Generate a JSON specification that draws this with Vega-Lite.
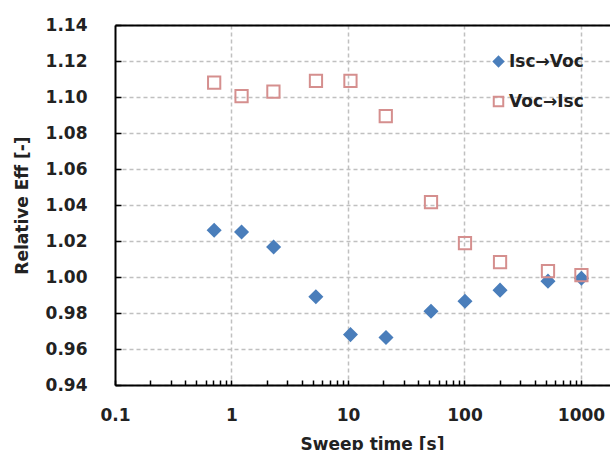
{
  "$schema": "https://vega.github.io/schema/vega-lite/v6.json",
  "autosize": {"type": "none"},
  "padding": {"left": 115, "top": 25, "right": 0, "bottom": 65},
  "width": 495,
  "height": 360,
  "background": "white",
  "config": {
    "font": "DejaVu Sans",
    "view": {"stroke": null},
    "axis": {
      "domainColor": "black",
      "domainWidth": 2,
      "tickColor": "black",
      "tickWidth": 1.5,
      "labelFont": "DejaVu Sans",
      "labelFontWeight": "bold",
      "labelFontSize": 17,
      "labelColor": "#222",
      "labelOverlap": false,
      "titleFont": "DejaVu Sans",
      "titleFontWeight": "bold",
      "titleFontSize": 17,
      "titleColor": "#222",
      "gridColor": "#c0c0c0",
      "gridDash": [4, 3],
      "gridWidth": 1.5
    },
    "axisY": {"labelOverlap": false}
  },
  "data": {
    "values": [
      {"t": 0.71, "eff": 1.026, "series": "Isc→Voc"},
      {"t": 1.22, "eff": 1.025, "series": "Isc→Voc"},
      {"t": 2.3, "eff": 1.0167, "series": "Isc→Voc"},
      {"t": 5.3, "eff": 0.989, "series": "Isc→Voc"},
      {"t": 10.5, "eff": 0.968, "series": "Isc→Voc"},
      {"t": 21.2, "eff": 0.9664, "series": "Isc→Voc"},
      {"t": 51.6, "eff": 0.981, "series": "Isc→Voc"},
      {"t": 101, "eff": 0.9865, "series": "Isc→Voc"},
      {"t": 202, "eff": 0.9927, "series": "Isc→Voc"},
      {"t": 521, "eff": 0.9977, "series": "Isc→Voc"},
      {"t": 1009, "eff": 0.9993, "series": "Isc→Voc"},
      {"t": 0.71, "eff": 1.108, "series": "Voc→Isc"},
      {"t": 1.22, "eff": 1.1005, "series": "Voc→Isc"},
      {"t": 2.29, "eff": 1.103, "series": "Voc→Isc"},
      {"t": 5.31, "eff": 1.109, "series": "Voc→Isc"},
      {"t": 10.5, "eff": 1.109, "series": "Voc→Isc"},
      {"t": 21.1, "eff": 1.0894, "series": "Voc→Isc"},
      {"t": 51.6, "eff": 1.0416, "series": "Voc→Isc"},
      {"t": 101, "eff": 1.0188, "series": "Voc→Isc"},
      {"t": 202, "eff": 1.0082, "series": "Voc→Isc"},
      {"t": 521, "eff": 1.0032, "series": "Voc→Isc"},
      {"t": 1009, "eff": 1.001, "series": "Voc→Isc"}
    ]
  },
  "resolve": {"axis": {"x": "independent"}},
  "layer": [
    {
      "mark": {"type": "point", "opacity": 0},
      "encoding": {
        "x": {
          "field": "t",
          "type": "quantitative",
          "scale": {"type": "log", "domain": [0.1, 1775], "nice": false},
          "axis": {"orient": "top", "labels": false, "ticks": false, "grid": false, "title": null, "domain": true}
        },
        "y": {
          "field": "eff",
          "type": "quantitative",
          "scale": {"domain": [0.94, 1.14], "nice": false, "zero": false},
          "axis": {
            "title": "Relative Eff [-]",
            "values": [0.94, 0.96, 0.98, 1.0, 1.02, 1.04, 1.06, 1.08, 1.1, 1.12, 1.14],
            "format": ".2f",
            "grid": true,
            "tickSize": -6,
            "labelPadding": 34,
            "labelOverlap": false,
            "labelFlush": false,
            "titlePadding": 14
          }
        }
      }
    },
    {
      "mark": {"type": "point", "strokeWidth": 2, "opacity": 1},
      "encoding": {
        "x": {
          "field": "t",
          "type": "quantitative",
          "scale": {"type": "log", "domain": [0.1, 1775], "nice": false},
          "axis": {
            "title": "Sweep time [s]",
            "values": [0.1, 0.2, 0.3, 0.4, 0.5, 0.6, 0.7, 0.8, 0.9, 1, 2, 3, 4, 5, 6, 7, 8, 9, 10, 20, 30, 40, 50, 60, 70, 80, 90, 100, 200, 300, 400, 500, 600, 700, 800, 900, 1000],
            "labelExpr": "indexof([0.1, 1, 10, 100, 1000], datum.value) >= 0 ? format(datum.value, '~g') : ''",
            "grid": true,
            "gridOpacity": {"condition": {"test": "indexof([1, 10, 100, 1000], datum.value) >= 0", "value": 1}, "value": 0},
            "tickSize": -5,
            "labelPadding": 27,
            "labelFlush": false,
            "labelOverlap": false,
            "titlePadding": 13,
            "titleX": 257
          }
        },
        "y": {
          "field": "eff",
          "type": "quantitative",
          "scale": {"domain": [0.94, 1.14], "nice": false, "zero": false},
          "axis": {
            "title": "Relative Eff [-]",
            "values": [0.94, 0.96, 0.98, 1.0, 1.02, 1.04, 1.06, 1.08, 1.1, 1.12, 1.14],
            "format": ".2f",
            "grid": true,
            "tickSize": -6,
            "labelPadding": 34,
            "labelOverlap": false,
            "labelFlush": false,
            "titlePadding": 14
          }
        },
        "shape": {
          "field": "series",
          "type": "nominal",
          "scale": {"domain": ["Isc→Voc", "Voc→Isc"], "range": ["diamond", "square"]},
          "legend": {
            "title": null,
            "orient": "none",
            "legendX": 375,
            "legendY": 28,
            "labelFontSize": 17,
            "labelFontWeight": "bold",
            "labelColor": "#222",
            "symbolSize": 90,
            "symbolStrokeWidth": 2,
            "rowPadding": 21,
            "labelOffset": 2
          }
        },
        "fill": {
          "field": "series",
          "type": "nominal",
          "scale": {"domain": ["Isc→Voc", "Voc→Isc"], "range": ["#4a7ebb", "transparent"]},
          "legend": null
        },
        "stroke": {
          "field": "series",
          "type": "nominal",
          "scale": {"domain": ["Isc→Voc", "Voc→Isc"], "range": ["#4a7ebb", "#d58f8e"]},
          "legend": null
        },
        "size": {"value": 150}
      }
    }
  ]
}
